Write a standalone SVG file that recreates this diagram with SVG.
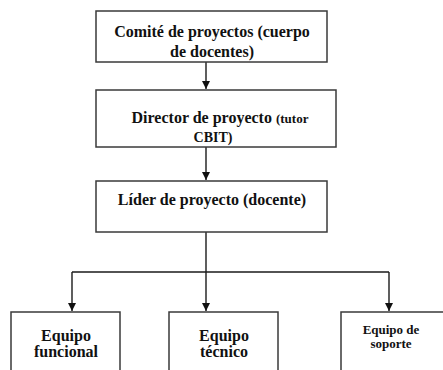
<svg xmlns="http://www.w3.org/2000/svg" width="443" height="370" viewBox="0 0 443 370">
<defs>
<style>
.box{fill:#fff;stroke:#3a3a3a;stroke-width:1.5}
.t{font-family:'Liberation Serif','Times New Roman','DejaVu Serif',serif;font-weight:bold;fill:#111;text-anchor:middle}
.c{fill:none;stroke:#1a1a1a;stroke-width:1.4}
</style>
<marker id="ah" markerWidth="10" markerHeight="10" refX="8" refY="4" orient="auto" markerUnits="userSpaceOnUse">
<path d="M0,0 L8,4 L0,8 Z" fill="#111"/>
</marker>
</defs>
<rect width="443" height="370" fill="#fff"/>
<g id="connectors">
<line class="c" x1="206" y1="62" x2="206" y2="89" marker-end="url(#ah)"/>
<line class="c" x1="206" y1="147" x2="206" y2="180" marker-end="url(#ah)"/>
<line class="c" x1="206" y1="232" x2="206" y2="311" marker-end="url(#ah)"/>
<line class="c" x1="72" y1="272" x2="389" y2="272"/>
<line class="c" x1="72" y1="272" x2="72" y2="311" marker-end="url(#ah)"/>
<line class="c" x1="389" y1="272" x2="389" y2="311" marker-end="url(#ah)"/>
</g>
<g id="comite">
<rect class="box" x="96" y="11" width="231" height="51"/>
<text class="t" x="212" y="37" font-size="16" font-family="Liberation Serif, serif">Comité de proyectos (cuerpo</text>
<text class="t" x="212" y="57" font-size="16" font-family="Liberation Serif, serif">de docentes)</text>
</g>
<g id="director">
<rect class="box" x="96" y="90" width="240" height="57"/>
<text class="t" x="220" y="123" font-size="16" font-family="Liberation Serif, serif">Director de proyecto <tspan font-size="13">(tutor</tspan></text>
<text class="t" x="213" y="142" font-size="14" font-family="Liberation Serif, serif">CBIT)</text>
</g>
<g id="lider">
<rect class="box" x="96" y="181" width="231" height="51"/>
<text class="t" x="212" y="205" font-size="16" font-family="Liberation Serif, serif">Líder de proyecto (docente)</text>
</g>
<g id="funcional">
<rect class="box" x="11" y="312" width="109" height="70"/>
<text class="t" x="66" y="341" font-size="16" font-family="Liberation Serif, serif">Equipo</text>
<text class="t" x="66" y="357" font-size="16" font-family="Liberation Serif, serif">funcional</text>
</g>
<g id="tecnico">
<rect class="box" x="169" y="312" width="109" height="70"/>
<text class="t" x="224" y="341" font-size="16" font-family="Liberation Serif, serif">Equipo</text>
<text class="t" x="224" y="357" font-size="16" font-family="Liberation Serif, serif">técnico</text>
</g>
<g id="soporte">
<rect class="box" x="341" y="312" width="110" height="70"/>
<text class="t" x="391" y="334" font-size="13" font-family="Liberation Serif, serif">Equipo de</text>
<text class="t" x="391" y="348" font-size="13" font-family="Liberation Serif, serif">soporte</text>
</g>
</svg>
